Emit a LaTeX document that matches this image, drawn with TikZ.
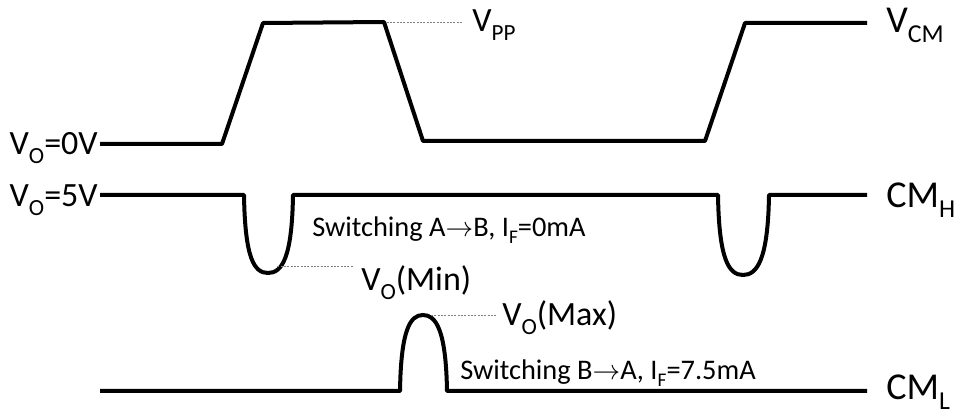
\documentclass[tikz,border=0pt]{standalone}
\usepackage{fontspec}
\setmainfont{Carlito}
\makeatletter
\newcommand\lo[1]{\raisebox{-0.24em}{\fontsize{\the\dimexpr0.68\dimexpr\f@size pt\relax\relax}{1pt}\selectfont #1}}
\makeatother
\begin{document}
\begin{tikzpicture}[x=0.75pt,y=-0.75pt,
  wave/.style={line width=3pt,line join=round},
  guide/.style={gray,line width=0.6pt,dash pattern=on 1.5pt off 1pt},
  lab/.style={inner sep=0pt,font=\fontsize{25.5}{30}\selectfont},
  biglab/.style={inner sep=0pt,font=\fontsize{28.5}{33}\selectfont},
  note/.style={inner sep=0pt,font=\fontsize{21.3}{25}\selectfont}]
\useasboundingbox (0,0) rectangle (960,416);
% top waveform
\draw[wave] (100,144) -- (222,144) -- (263,23) -- (384,22) coordinate (pp) -- (423,141) -- (705,141) -- (745,23) -- (867,23);
% middle waveform
\draw[wave] (100,195) -- (244,195)
  .. controls (245,258) and (254,273) .. (268,273) coordinate (vmin)
  .. controls (282,273) and (292,258) .. (293,195) -- (718,195)
  .. controls (719,260) and (729,275) .. (743,275)
  .. controls (757,275) and (768,260) .. (769,195) -- (867,195);
% bottom waveform
\draw[wave] (100,391) -- (400,391)
  .. controls (401,330) and (410,315) .. (423,315) coordinate (vmax)
  .. controls (436,315) and (446,330) .. (447,391) -- (867,391);
% labels
\node[lab,anchor=base east] (v0) at (98,155) {V\lo{O}=0V};
\node[lab,anchor=base east] (v5) at (98,207) {V\lo{O}=5V};
\node[lab,anchor=base west] (vpp) at (472,32) {V\lo{PP}};
\node[biglab,anchor=base west] (vcm) at (886,33) {V\lo{CM}};
\node[biglab,anchor=base west] (cmh) at (886,208) {CM\lo{H}};
\node[biglab,anchor=base west] (cml) at (886,400) {CM\lo{L}};
\node[lab,anchor=base west] (vomin) at (361,291) {V\lo{O}(Min)};
\node[lab,anchor=base west] (vomax) at (502,326) {V\lo{O}(Max)};
\node[note,anchor=base west] (sab) at (312,237) {Switching A$\rightarrow$B, I\lo{F}=0mA};
\node[note,anchor=base west] (sba) at (460,380) {Switching B$\rightarrow$A, I\lo{F}=7.5mA};
% guides
\draw[guide] ([xshift=2]pp) -- ([xshift=-7]vpp.west |- pp);
\draw[guide] ([xshift=7,yshift=5]vmin) -- ([xshift=-6,yshift=5]vomin.west |- vmin);
\draw[guide] ([xshift=6]vmax) -- ([xshift=-4]vomax.west |- vmax);
\end{tikzpicture}
\end{document}
